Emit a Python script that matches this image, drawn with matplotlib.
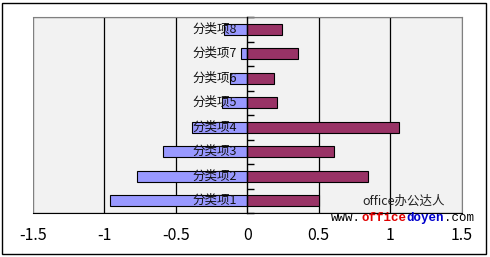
import matplotlib
matplotlib.use("Agg")
import matplotlib.pyplot as plt
from matplotlib.patches import Rectangle
import numpy as np

plt.rcParams['font.family'] = ['Noto Sans CJK SC', 'DejaVu Sans']
plt.rcParams['axes.unicode_minus'] = False

categories = ['分类项1', '分类项2', '分类项3', '分类项4', '分类项5', '分类项6', '分类项7', '分类项8']
neg_values = [-0.96, -0.77, -0.59, -0.39, -0.18, -0.12, -0.044, -0.16]
pos_values = [0.50, 0.846, 0.607, 1.063, 0.21, 0.187, 0.355, 0.243]
xticks = [-1.5, -1, -0.5, 0, 0.5, 1, 1.5]
xtick_labels = ['-1.5', '-1', '-0.5', '0', '0.5', '1', '1.5']

W, H = 490, 257
fig = plt.figure(figsize=(W / 100, H / 100), dpi=100)
fig.patch.set_facecolor('white')
ax = fig.add_axes([33 / W, 1 - 213 / H, (461.5 - 33) / W, (213 - 17) / H])
ax.set_facecolor('#F2F2F2')

y = np.arange(len(categories))
ax.barh(y, neg_values, height=0.44, color='#9999FF', edgecolor='black', linewidth=0.8, zorder=3)
ax.barh(y, pos_values, height=0.44, color='#993366', edgecolor='black', linewidth=0.8, zorder=3)

ax.set_xlim(-1.5, 1.5)
ax.set_ylim(-0.5, len(categories) - 0.5)

# gridlines
for g in [-1, -0.5, 0.5, 1]:
    ax.axvline(g, color='black', linewidth=0.9, zorder=1)

ax.set_xticks(xticks)
ax.set_xticklabels(xtick_labels, fontsize=11.5)
ax.tick_params(axis='x', length=0, pad=10)

# y axis sits at x = 0
ax.spines['left'].set_position(('data', 0))
ax.spines['left'].set_color('black')
ax.spines['left'].set_zorder(4)
ax.spines['left'].set_linewidth(1.0)
ax.spines['bottom'].set_color('black')
ax.spines['bottom'].set_zorder(5)
for s in ['top', 'right']:
    ax.spines[s].set_color('#808080')

# outline of plot area on the left
ax.add_patch(Rectangle((0, 0), 1, 1, transform=ax.transAxes, fill=False,
                       edgecolor='#808080', linewidth=1.0, zorder=0.5))

ax.set_yticks(np.arange(len(categories) + 1) - 0.5)
ax.set_yticklabels([])
ax.tick_params(axis='y', which='major', direction='in', length=5, width=1)

# category labels drawn on top of the bars, next to the axis
for yi, name in zip(y, categories):
    ax.annotate(name, xy=(0, yi), xytext=(-10, 0), textcoords='offset pixels',
                ha='right', va='center', fontsize=9, color='#111111', zorder=6)

# watermark
fig.text(362 / W, 1 - 201 / H, 'office办公达人', fontsize=9, va='center', ha='left', color='#222222')
cw = 0.6 * 9 * 100 / 72
x0 = 331
pieces = [('www.', 'black', 'normal'), ('office', '#E00000', 'bold'),
          ('doyen', '#0000CC', 'bold'), ('.com', 'black', 'normal')]
for txt, col, wt in pieces:
    fig.text(x0 / W, 1 - 218 / H, txt, fontsize=9, family='Liberation Mono',
             color=col, fontweight=wt, va='center', ha='left')
    x0 += cw * len(txt)

fig.patches.append(Rectangle((1.5 / W, 3 / H), 484.5 / W, 251.5 / H, transform=fig.transFigure,
                             fill=False, edgecolor='black', linewidth=1.0))

fig.savefig('out.png', dpi=100)
